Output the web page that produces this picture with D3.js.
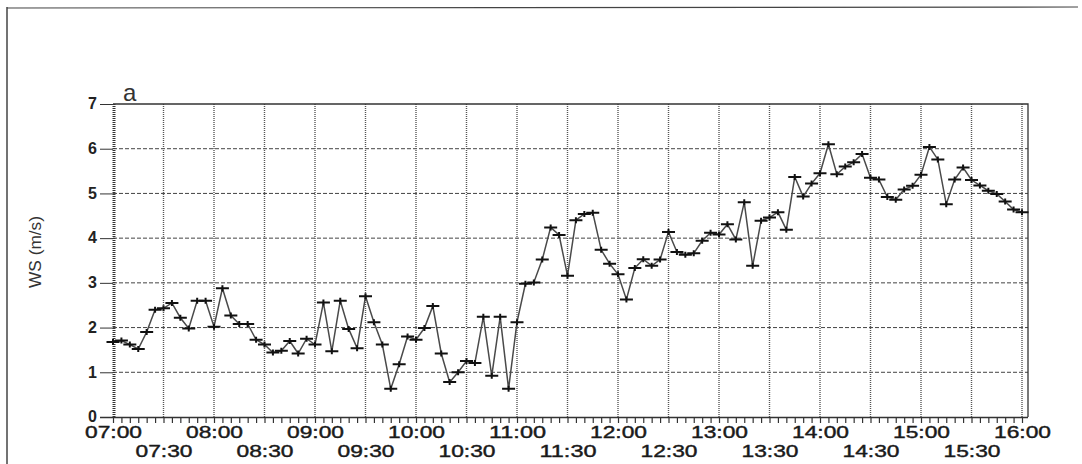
<!DOCTYPE html>
<html>
<head>
<meta charset="utf-8">
<script src="https://cdn.jsdelivr.net/npm/d3@7"></script>
<style>
  body { margin: 0; background: #fff; }
  svg { display: block; font-family: "Liberation Sans", Arial, sans-serif; }
</style>
</head>
<body>
<div id="chart"></div>
<script>
// wind speed, one reading every 5 minutes from 07:00 to 16:00
var startTime = "07:00";
var stepMinutes = 5;
var windSpeed = [
  1.68, 1.71, 1.62, 1.52, 1.90, 2.40, 2.43, 2.55, 2.22, 1.98, 2.60, 2.60,
  2.02, 2.88, 2.27, 2.08, 2.08, 1.73, 1.62, 1.44, 1.48, 1.70, 1.42, 1.75,
  1.62, 2.56, 1.47, 2.60, 1.97, 1.54, 2.70, 2.12, 1.62, 0.63, 1.18, 1.80,
  1.73, 1.99, 2.48, 1.42, 0.78, 1.00, 1.25, 1.21, 2.24, 0.92, 2.24, 0.63,
  2.12, 2.98, 3.01, 3.52, 4.24, 4.07, 3.16, 4.40, 4.54, 4.57, 3.74, 3.43,
  3.19, 2.63, 3.33, 3.53, 3.38, 3.52, 4.14, 3.69, 3.63, 3.66, 3.94, 4.12,
  4.08, 4.31, 3.97, 4.80, 3.38, 4.39, 4.46, 4.58, 4.19, 5.37, 4.93, 5.22,
  5.45, 6.10, 5.43, 5.60, 5.70, 5.88, 5.35, 5.31, 4.92, 4.86, 5.09, 5.17,
  5.42, 6.04, 5.76, 4.76, 5.31, 5.58, 5.30, 5.18, 5.06, 4.99, 4.82, 4.64,
  4.58
];
var hourLabels = ["07:00", "08:00", "09:00", "10:00", "11:00", "12:00", "13:00", "14:00", "15:00", "16:00"];
var halfHourLabels = ["07:30", "08:30", "09:30", "10:30", "11:30", "12:30", "13:30", "14:30", "15:30"];
var yTicks = [0, 1, 2, 3, 4, 5, 6, 7];
var panelLabel = "a";
var yTitle = "WS (m/s)";

var parseTime = d3.timeParse("%H:%M");
var t0 = parseTime(startTime);
var data = windSpeed.map(function (v, i) {
  return { time: d3.timeMinute.offset(t0, i * stepMinutes), ws: v };
});

var width = 1082, height = 464;
var margin = { top: 104, right: 54, bottom: 47, left: 113 };

var svg = d3.select("#chart")
  .append("svg")
  .attr("width", width)
  .attr("height", height);

// scanned page frame
svg.append("line").attr("x1", 7).attr("y1", 7).attr("x2", 7).attr("y2", height)
  .style("stroke", "#444").style("stroke-width", 1.5);
svg.append("line").attr("x1", 7).attr("y1", 8).attr("x2", 1078).attr("y2", 7)
  .style("stroke", "#444").style("stroke-width", 1.2);

var x = d3.scaleTime()
  .domain([parseTime("07:00"), parseTime("16:00")])
  .range([margin.left, 1022]);
var y = d3.scaleLinear()
  .domain([0, 7])
  .range([417, margin.top]);
var plotRight = 1028;

var g = svg.append("g");

// horizontal grid (dashed)
g.selectAll("line.hgrid")
  .data(yTicks.filter(function (d) { return d > 0 && d < 7; }))
  .enter()
  .append("line")
    .attr("class", "hgrid")
    .attr("x1", x.range()[0]).attr("x2", plotRight)
    .attr("y1", function (d) { return y(d); })
    .attr("y2", function (d) { return y(d); })
    .style("stroke", "#444")
    .style("stroke-width", 1)
    .style("stroke-dasharray", "4,2");

// vertical grid (dotted) every 30 minutes
var halfHours = d3.timeMinute.every(30).range(parseTime("07:30"), d3.timeMinute.offset(parseTime("16:00"), 1));
g.selectAll("line.vgrid")
  .data(halfHours)
  .enter()
  .append("line")
    .attr("class", "vgrid")
    .attr("x1", function (d) { return x(d); })
    .attr("x2", function (d) { return x(d); })
    .attr("y1", y(7)).attr("y2", y(0))
    .style("stroke", "#555")
    .style("stroke-width", 1.4)
    .style("stroke-dasharray", "1,1");

// left axis line: heavy dotted
g.append("line")
  .attr("x1", x.range()[0] + 1).attr("x2", x.range()[0] + 1)
  .attr("y1", y(7)).attr("y2", y(0))
  .style("stroke", "#333")
  .style("stroke-width", 3)
  .style("stroke-dasharray", "1,1");

// top and right frame of the plot
g.append("path")
  .attr("d", "M" + x.range()[0] + "," + y(7) + "H" + plotRight + "V" + y(0))
  .style("fill", "none")
  .style("stroke", "#333")
  .style("stroke-width", 1.3);

// y axis
var yAxis = svg.append("g")
  .attr("transform", "translate(" + x.range()[0] + ",0)")
  .call(d3.axisLeft(y).tickValues(yTicks).tickSize(13).tickPadding(3).tickFormat(d3.format("d")));
yAxis.select(".domain").remove();
yAxis.selectAll(".tick line").style("stroke", "#333").style("stroke-width", 1);
yAxis.selectAll(".tick text")
  .style("font-size", "16px")
  .style("font-weight", "bold")
  .style("fill", "#222")
  .attr("dy", "0.3em");

// x axis: line and 5-minute minor ticks
var fiveMin = d3.timeMinute.every(5).range(parseTime("07:00"), d3.timeMinute.offset(parseTime("16:00"), 1));
var xMinor = svg.append("g")
  .attr("transform", "translate(0," + y(0) + ")")
  .call(d3.axisBottom(x).tickValues(fiveMin).tickSize(6).tickFormat(""));
xMinor.select(".domain").attr("d", "M100,0.5H" + plotRight).style("stroke", "#333").style("stroke-width", 1.3);
xMinor.selectAll(".tick line").style("stroke", "#333").style("stroke-width", 1.2);

// hour labels (first row)
var hourTimes = hourLabels.map(parseTime);
var xHours = svg.append("g")
  .attr("transform", "translate(0," + y(0) + ")")
  .call(d3.axisBottom(x).tickValues(hourTimes).tickSize(0).tickPadding(10).tickFormat(d3.timeFormat("%H:%M")));
xHours.select(".domain").remove();

// half-hour labels (second row)
var halfTimes = halfHourLabels.map(parseTime);
var xHalf = svg.append("g")
  .attr("transform", "translate(0," + y(0) + ")")
  .call(d3.axisBottom(x).tickValues(halfTimes).tickSize(0).tickPadding(29).tickFormat(d3.timeFormat("%H:%M")));
xHalf.select(".domain").remove();

svg.selectAll(".tick text")
  .filter(function () { return this.textContent.indexOf(":") > 0; })
  .style("font-size", "16px")
  .style("fill", "#1a1a1a")
  .style("stroke", "#1a1a1a")
  .style("stroke-width", 0.4)
  .attr("textLength", 57)
  .attr("lengthAdjust", "spacingAndGlyphs");

// line and markers
var line = d3.line()
  .x(function (d) { return x(d.time); })
  .y(function (d) { return y(d.ws); });

svg.append("path")
  .datum(data)
  .attr("d", line)
  .style("fill", "none")
  .style("stroke", "#4a4a4a")
  .style("stroke-width", 1.5);

svg.selectAll("path.mark")
  .data(data)
  .enter()
  .append("path")
    .attr("class", "mark")
    .attr("transform", function (d) { return "translate(" + x(d.time) + "," + y(d.ws) + ")"; })
    .attr("d", "M-6.5,0H6.5M0,-3V3")
    .style("stroke", "#111")
    .style("stroke-width", 2);

// panel letter
svg.append("text")
  .attr("x", 123)
  .attr("y", 101)
  .style("font-size", "24px")
  .style("fill", "#333")
  .text(panelLabel);

// y title
svg.append("text")
  .attr("transform", "translate(41,252) rotate(-90)")
  .attr("text-anchor", "middle")
  .style("font-size", "17px")
  .style("fill", "#333")
  .attr("textLength", 72)
  .attr("lengthAdjust", "spacingAndGlyphs")
  .text(yTitle);
</script>
</body>
</html>
